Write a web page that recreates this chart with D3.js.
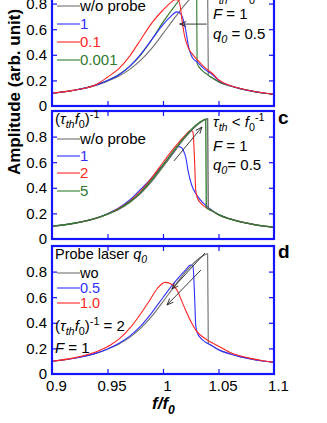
<!DOCTYPE html>
<html>
<head>
<meta charset="utf-8">
<script src="https://cdn.jsdelivr.net/npm/d3@7"></script>
<style>
  body { margin: 0; background: #fff; }
  svg { display: block; font-family: "Liberation Sans", Arial, sans-serif; }
</style>
</head>
<body>
<div class="chart"></div>
<script>
// axis ticks
const fTicks = [0.9, 0.95, 1, 1.05, 1.1]
const aTicks = [0, 0.2, 0.4, 0.6, 0.8]

// w/o probe (same in every panel)
const fWo = [0.9, 0.91, 0.92, 0.93, 0.94, 0.95, 0.96, 0.97, 0.98, 0.99, 1.0, 1.01, 1.02, 1.03, 1.035, 1.0402, 1.0408, 1.045, 1.05, 1.06, 1.07, 1.08, 1.09, 1.1]
const aWo = [0.100, 0.110, 0.123, 0.140, 0.163, 0.194, 0.232, 0.286, 0.358, 0.452, 0.565, 0.683, 0.794, 0.885, 0.918, 0.94, 0.24, 0.216, 0.19, 0.158, 0.134, 0.116, 0.102, 0.091]

// panel b : (tau_th f0)^-1 = 1, 0.1, 0.001
const fB1 = [0.9, 0.92, 0.94, 0.95, 0.96, 0.97, 0.98, 0.99, 1.0, 1.007, 1.0125, 1.016, 1.019, 1.021, 1.023, 1.026, 1.0305, 1.0365, 1.045, 1.05, 1.06, 1.07, 1.08, 1.09, 1.1]
const aB1 = [0.100, 0.123, 0.165, 0.2, 0.242, 0.31, 0.405, 0.52, 0.635, 0.70, 0.735, 0.72, 0.65, 0.568, 0.463, 0.385, 0.346, 0.294, 0.242, 0.2, 0.16, 0.135, 0.116, 0.102, 0.091]
const fB01 = [0.9, 0.92, 0.94, 0.95, 0.96, 0.97, 0.98, 0.99, 1.0, 1.006, 1.011, 1.0135, 1.0155, 1.017, 1.0185, 1.0205, 1.023, 1.027, 1.031, 1.037, 1.045, 1.05, 1.06, 1.07, 1.08, 1.09, 1.1]
const aB01 = [0.100, 0.124, 0.168, 0.225, 0.29, 0.39, 0.52, 0.65, 0.75, 0.80, 0.83, 0.828, 0.78, 0.68, 0.59, 0.51, 0.45, 0.40, 0.36, 0.305, 0.25, 0.205, 0.162, 0.136, 0.117, 0.103, 0.091]
const fB0001 = [0.9, 0.92, 0.94, 0.95, 0.96, 0.97, 0.98, 0.99, 1.0, 1.01, 1.015, 1.02, 1.025, 1.0303, 1.0307, 1.035, 1.04, 1.045, 1.05, 1.06, 1.07, 1.08, 1.09, 1.1]
const aB0001 = [0.100, 0.123, 0.165, 0.2, 0.245, 0.31, 0.40, 0.52, 0.655, 0.775, 0.83, 0.875, 0.91, 0.935, 0.333, 0.28, 0.245, 0.217, 0.19, 0.158, 0.134, 0.116, 0.102, 0.091]

// panel c : (tau_th f0)^-1 = 1, 2, 5
const fC1 = [0.9, 0.92, 0.94, 0.95, 0.96, 0.97, 0.98, 0.988, 0.9955, 1.0033, 1.0108, 1.0138, 1.0165, 1.0185, 1.0207, 1.0228, 1.0259, 1.0304, 1.0363, 1.0439, 1.05, 1.06, 1.07, 1.08, 1.09, 1.1]
const aC1 = [0.100, 0.123, 0.164, 0.198, 0.242, 0.305, 0.39, 0.46, 0.537, 0.605, 0.69, 0.722, 0.715, 0.69, 0.63, 0.525, 0.42, 0.343, 0.28, 0.226, 0.192, 0.158, 0.134, 0.116, 0.102, 0.091]
const fC2 = [0.9, 0.92, 0.94, 0.95, 0.96, 0.97, 0.98, 0.99, 1.0, 1.01, 1.02, 1.025, 1.027, 1.0285, 1.0295, 1.031, 1.034, 1.038, 1.045, 1.05, 1.06, 1.07, 1.08, 1.09, 1.1]
const aC2 = [0.100, 0.123, 0.163, 0.196, 0.238, 0.296, 0.376, 0.480, 0.598, 0.712, 0.81, 0.847, 0.835, 0.6, 0.38, 0.32, 0.28, 0.25, 0.216, 0.19, 0.158, 0.134, 0.116, 0.102, 0.091]
const fC5 = [0.9, 0.92, 0.94, 0.95, 0.96, 0.97, 0.98, 0.99, 1.0, 1.01, 1.02, 1.03, 1.0385, 1.039, 1.045, 1.05, 1.06, 1.07, 1.08, 1.09, 1.1]
const aC5 = [0.100, 0.123, 0.163, 0.195, 0.234, 0.290, 0.366, 0.465, 0.578, 0.694, 0.802, 0.892, 0.935, 0.245, 0.217, 0.19, 0.158, 0.134, 0.116, 0.102, 0.091]

// panel d : probe laser q0 = 0.5, 1.0
const fD05 = [0.9, 0.92, 0.94, 0.95, 0.96, 0.97, 0.98, 0.99, 1.0, 1.01, 1.02, 1.025, 1.027, 1.0285, 1.0295, 1.031, 1.034, 1.038, 1.045, 1.05, 1.06, 1.07, 1.08, 1.09, 1.1]
const aD05 = [0.100, 0.123, 0.163, 0.196, 0.238, 0.296, 0.376, 0.480, 0.598, 0.712, 0.81, 0.852, 0.84, 0.6, 0.38, 0.32, 0.28, 0.25, 0.216, 0.19, 0.158, 0.134, 0.116, 0.102, 0.091]
const fD10 = [0.9, 0.92, 0.9432, 0.9523, 0.9613, 0.9703, 0.9793, 0.9883, 0.995, 1.0018, 1.007, 1.0123, 1.0183, 1.0243, 1.0304, 1.0394, 1.0484, 1.06, 1.07, 1.08, 1.09, 1.1]
const aD10 = [0.100, 0.126, 0.185, 0.225, 0.28, 0.36, 0.463, 0.58, 0.67, 0.716, 0.705, 0.66, 0.54, 0.424, 0.333, 0.268, 0.225, 0.17, 0.14, 0.12, 0.104, 0.092]

const GRAY = "#6f6f6f", BLUE = "#3030ff", RED = "#ff2424", GREEN = "#2f7a2f", FRAME = "#1414ff"

const W = 327, H = 423
const left = 52, right = 274

const svg = d3.select(".chart").append("svg").attr("width", W).attr("height", H)

const x = d3.scaleLinear().domain([0.9, 1.1]).range([left, right])

// write text made of parts: {t, i (italic), sub, sup}
function rich(g, px, py, parts, size, opts) {
  opts = opts || {}
  var text = g.append("text").attr("x", px).attr("y", py)
    .attr("font-size", size).attr("fill", opts.fill || "#000")
    .attr("font-weight", opts.bold ? "bold" : null)
  var shift = 0
  parts.forEach(function(p) {
    var want = p.sub ? size * 0.28 : (p.sup ? -size * 0.4 : 0)
    var ts = text.append("tspan").text(p.t).attr("dy", want - shift)
    if (p.i) ts.attr("font-style", "italic")
    if (p.sub || p.sup) ts.attr("font-size", size * 0.72)
    shift = want
  })
  return text
}

function arrow(g, y, f1, a1, f2, a2) {
  var x1 = x(f1), y1 = y(a1), x2 = x(f2), y2 = y(a2)
  var ang = Math.atan2(y2 - y1, x2 - x1)
  var L = 7, s = 0.38
  g.append("line").attr("x1", x1).attr("y1", y1).attr("x2", x2).attr("y2", y2)
    .attr("stroke", "#222").attr("stroke-width", 0.9)
  g.append("path")
    .attr("d", "M" + x2 + "," + y2 +
      "L" + (x2 - L * Math.cos(ang - s)) + "," + (y2 - L * Math.sin(ang - s)) +
      "M" + x2 + "," + y2 +
      "L" + (x2 - L * Math.cos(ang + s)) + "," + (y2 - L * Math.sin(ang + s)))
    .attr("stroke", "#222").attr("stroke-width", 0.9).attr("fill", "none")
}

function panel(p, idx) {
  var y = d3.scaleLinear().domain([0, 1]).range([p.bottom, p.bottom - 128])
  var g = svg.append("g")

  g.append("clipPath").attr("id", "clip" + idx).append("rect")
    .attr("x", left).attr("y", p.bottom - 128).attr("width", right - left).attr("height", 128)

  var line = d3.line().x(d => x(d[0])).y(d => y(d[1])).curve(d3.curveMonotoneX)
  var cg = g.append("g").attr("clip-path", "url(#clip" + idx + ")")
  p.curves.forEach(function(c) {
    cg.append("path").datum(d3.zip(c.f, c.a))
      .attr("d", line).attr("fill", "none")
      .attr("stroke", c.color).attr("stroke-width", c.w || 1.1)
  })

  // axes, ticks inward
  var yl = g.append("g").attr("transform", "translate(" + left + ",0)")
    .call(d3.axisLeft(y).tickValues(aTicks).tickSizeInner(-5).tickSizeOuter(0).tickPadding(5).tickFormat(d => String(d)))
  var yr = g.append("g").attr("transform", "translate(" + right + ",0)")
    .call(d3.axisRight(y).tickValues(aTicks.slice(1)).tickSizeInner(-5).tickSizeOuter(0).tickFormat(""))
  var xt = g.append("g").attr("transform", "translate(0," + (p.bottom - 128) + ")")
    .call(d3.axisTop(x).tickValues(fTicks.slice(1, 4)).tickSizeInner(-5).tickSizeOuter(0).tickFormat(""))
  var xb = g.append("g").attr("transform", "translate(0," + p.bottom + ")")
    .call(d3.axisBottom(x).tickValues(p.xlabels ? fTicks : fTicks.slice(1, 4)).tickSizeInner(-5).tickSizeOuter(0).tickPadding(6)
      .tickFormat(p.xlabels ? (d => String(d)) : ""))
  ;[yl, yr, xt, xb].forEach(function(a) {
    a.select(".domain").remove()
    a.selectAll("line").attr("stroke", FRAME).attr("stroke-width", 1.2)
    a.selectAll("text").attr("font-size", 15).attr("font-family", "Liberation Sans, Arial, sans-serif").attr("fill", "#000")
  })
  yl.selectAll(".tick").filter(d => d === 0).select("line").remove()
  xb.selectAll(".tick").filter(d => d === 0.9 || d === 1.1).select("line").remove()
  xb.selectAll("text").attr("dx", 4)

  g.append("rect").attr("x", left).attr("y", p.bottom - 128)
    .attr("width", right - left).attr("height", 128)
    .attr("fill", "none").attr("stroke", FRAME).attr("stroke-width", 2.2)

  // legend
  var fs = p.legendSize || 15
  if (p.title) rich(g, 55, p.title.y, p.title.parts, fs)
  p.legend.forEach(function(e) {
    g.append("line").attr("x1", 57).attr("x2", 80).attr("y1", e.y).attr("y2", e.y)
      .attr("stroke", e.color).attr("stroke-width", 1.1)
    g.append("text").attr("x", 80).attr("y", e.y).attr("dy", "0.35em")
      .attr("font-size", fs).attr("fill", e.textColor).text(e.label)
  })
  p.notes.forEach(n => rich(g, n.x, n.y, n.parts, n.size || 15))
  p.arrows.forEach(a => arrow(g, y, a[0], a[1], a[2], a[3]))

  if (p.letter) g.append("text").attr("x", 278).attr("y", p.letter.y)
    .attr("font-size", 19).attr("font-weight", "bold").text(p.letter.t)
}

const tauLabel = [{t: "("}, {t: "τ", i: true}, {t: "th", i: true, sub: true}, {t: "f", i: true}, {t: "0", sub: true}, {t: ")"}, {t: "-1", sup: true}]

const panels = [
  {
    bottom: 106,
    curves: [
      {f: fWo, a: aWo, color: GRAY},
      {f: fB0001, a: aB0001, color: GREEN},
      {f: fB1, a: aB1, color: BLUE},
      {f: fB01, a: aB01, color: RED}
    ],
    legend: [
      {y: 6, label: "w/o probe", color: GRAY, textColor: "#000"},
      {y: 24, label: "1", color: BLUE, textColor: BLUE},
      {y: 42, label: "0.1", color: RED, textColor: RED},
      {y: 60, label: "0.001", color: GREEN, textColor: GREEN}
    ],
    notes: [
      {x: 213, y: 0, parts: [{t: "τ", i: true}, {t: "th", i: true, sub: true}, {t: " > "}, {t: "f", i: true}, {t: "0", sub: true}, {t: "-1", sup: true}]},
      {x: 213, y: 19, parts: [{t: "F", i: true}, {t: " = 1"}]},
      {x: 213, y: 39, parts: [{t: "q", i: true}, {t: "0", i: true, sub: true}, {t: " = 0.5"}]}
    ],
    arrows: [[1.0394, 0.64, 1.0151, 0.64]]
  },
  {
    bottom: 239,
    curves: [
      {f: fC1, a: aC1, color: BLUE},
      {f: fC2, a: aC2, color: RED},
      {f: fWo, a: aWo, color: GRAY, w: 1.4},
      {f: fC5, a: aC5, color: GREEN, w: 1.3}
    ],
    title: {y: 124, parts: tauLabel},
    legend: [
      {y: 139, label: "w/o probe", color: GRAY, textColor: "#000"},
      {y: 156, label: "1", color: BLUE, textColor: BLUE},
      {y: 173, label: "2", color: RED, textColor: RED},
      {y: 191, label: "5", color: GREEN, textColor: GREEN}
    ],
    notes: [
      {x: 213, y: 127, parts: [{t: "τ", i: true}, {t: "th", i: true, sub: true}, {t: " < "}, {t: "f", i: true}, {t: "0", sub: true}, {t: "-1", sup: true}]},
      {x: 213, y: 151, parts: [{t: "F", i: true}, {t: " = 1"}]},
      {x: 213, y: 170, parts: [{t: "q", i: true}, {t: "0", i: true, sub: true}, {t: "= 0.5"}]}
    ],
    arrows: [[1.0099, 0.61, 1.0351, 0.875]],
    letter: {t: "c", y: 124}
  },
  {
    bottom: 374,
    xlabels: true,
    legendSize: 14.5,
    curves: [
      {f: fWo, a: aWo, color: GRAY},
      {f: fD05, a: aD05, color: BLUE},
      {f: fD10, a: aD10, color: RED}
    ],
    title: {y: 259, parts: [{t: "Probe laser "}, {t: "q", i: true}, {t: "0", i: true, sub: true}]},
    legend: [
      {y: 273, label: "wo", color: GRAY, textColor: "#000"},
      {y: 288, label: "0.5", color: BLUE, textColor: BLUE},
      {y: 303, label: "1.0", color: RED, textColor: RED}
    ],
    notes: [
      {x: 55, y: 331, parts: tauLabel.concat([{t: " = 2"}])},
      {x: 55, y: 353, parts: [{t: "F", i: true}, {t: " = 1"}]}
    ],
    arrows: [[1.0378, 0.945, 1.0081, 0.664], [1.0342, 0.8125, 1.0036, 0.539]],
    letter: {t: "d", y: 258}
  }
]

panels.forEach(panel)

// shared axis titles
svg.append("text")
  .attr("transform", "translate(20,92) rotate(-90)")
  .attr("text-anchor", "middle").attr("font-size", 17).attr("font-weight", "bold")
  .text("Amplitude (arb. unit)")

rich(svg, 152, 409, [{t: "f/f", i: true}, {t: "0", i: true, sub: true}], 17, {bold: true})
</script>
</body>
</html>
